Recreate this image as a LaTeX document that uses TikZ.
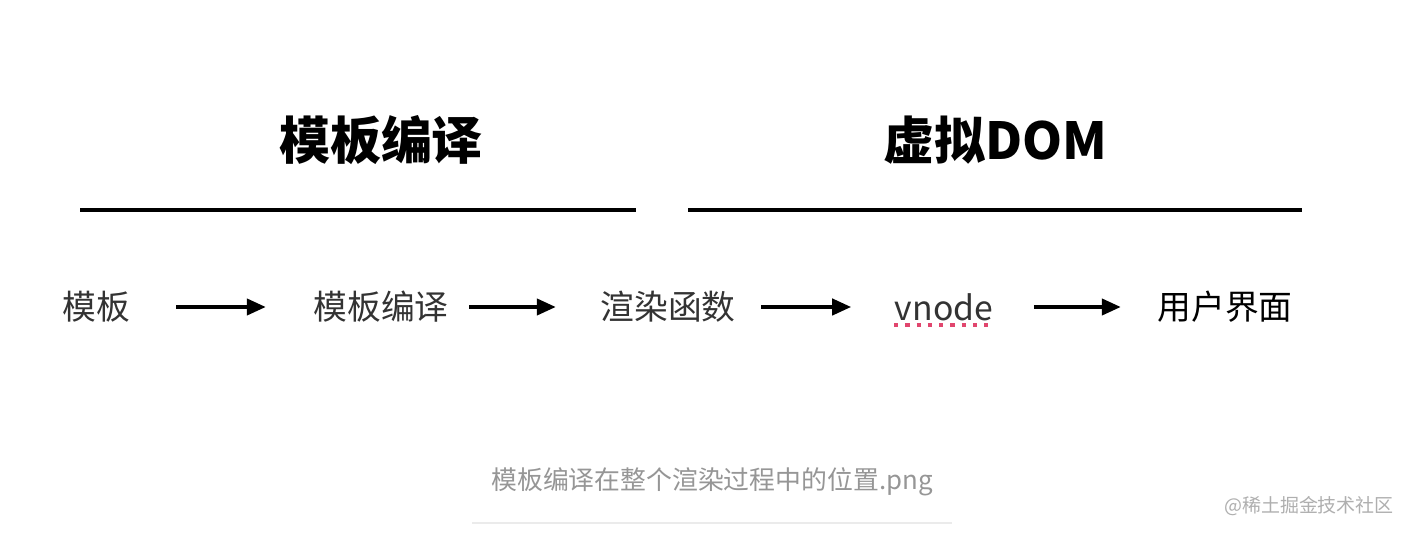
\documentclass[tikz,border=0pt]{standalone}
\usepackage{fontspec}
\setmainfont{Noto Sans CJK SC}
\usepackage{xcolor}
\usetikzlibrary{arrows.meta, positioning}
\definecolor{ink}{RGB}{51,51,51}
\definecolor{capgray}{RGB}{150,150,150}
\definecolor{markgray}{RGB}{175,175,175}
\definecolor{rulegray}{RGB}{235,235,235}
\definecolor{spellred}{RGB}{225,70,110}
\newdimen\px \px=0.01cm

\begin{document}
\begin{tikzpicture}[x=0.01cm, y=-0.01cm,
  head/.style={font=\fontsize{14.5pt}{16pt}\selectfont\bfseries, inner sep=0pt},
  lbl/.style={font=\fontsize{9.6pt}{11pt}\selectfont, text=ink, inner sep=0pt},
  bar/.style={line width=1.15pt, black},
  a/.style={-{Triangle[length=5.4pt, width=4.6pt]}, line width=1.05pt}]
  \useasboundingbox[fill=white] (0,0) rectangle (1406,534);

  % headings and bars
  \node[head] (tpl) at (381,140) {模板编译};
  \node[head] (vdom) at (995,140) {虚拟DOM};
  \coordinate (b1l) at (80,210);  \coordinate (b1r) at (636,210);
  \coordinate (b2l) at (688,210); \coordinate (b2r) at (1302,210);
  \draw[bar] (b1l) -- (b1r);
  \draw[bar] (b2l) -- (b2r);

  % pipeline
  \node[lbl] (src) at (96,307) {模板};
  \node[lbl] (cmp) at (381,307) {模板编译};
  \node[lbl] (rnd) at (668,307) {渲染函数};
  \node[lbl] (vn) at (944,307) {vnode};
  \node[lbl, text=black] (ui) at (1225,307) {用户界面};
  \draw[a, shorten <=46\px, shorten >=47\px] (src.east) -- (cmp.west);
  \draw[a, shorten <=20\px, shorten >=44\px] (cmp.east) -- (rnd.west);
  \draw[a, shorten <=25\px, shorten >=43\px] (rnd.east) -- (vn.west);
  \draw[a, shorten <=40\px, shorten >=36\px] (vn.east) -- (ui.west);
  \draw[spellred, line width=1.2pt, dotted]
    ([yshift=-4\px]vn.south west) -- ([yshift=-4\px]vn.south east);

  % caption
  \node[font=\fontsize{7.35pt}{9pt}\selectfont, text=capgray] (cap) at (712,482)
    {模板编译在整个渲染过程中的位置.png};
  \coordinate (cl) at (472,523); \coordinate (cr) at (952,523);
  \draw[rulegray, line width=0.4pt] (cl) -- (cr);
  \node[font=\fontsize{5.4pt}{7pt}\selectfont, text=markgray] (mark) at (1309,506)
    {@稀土掘金技术社区};
\end{tikzpicture}
\end{document}
